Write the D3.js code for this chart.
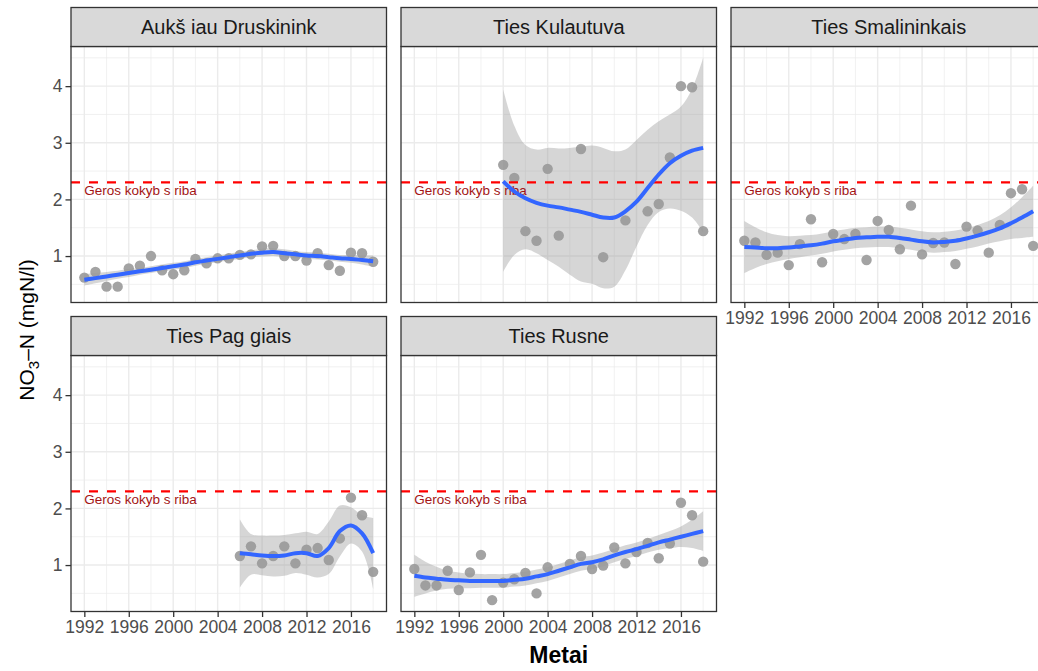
<!DOCTYPE html>
<html>
<head>
<meta charset="utf-8">
<script src="https://cdn.jsdelivr.net/npm/d3@7"></script>
<style>
html,body{margin:0;padding:0;background:#fff;}
svg{display:block;font-family:"Liberation Sans",Arial,sans-serif;}
</style>
</head>
<body>
<svg id="chart" width="1038" height="671"></svg>
<script>
// ---------------- DATA ----------------
const stations = ["Aukš iau Druskinink", "Ties Kulautuva", "Ties Smalininkais", "Ties Pag giais", "Ties Rusne"];
const years = [1992,1993,1994,1995,1996,1997,1998,1999,2000,2001,2002,2003,2004,2005,2006,2007,2008,2009,2010,2011,2012,2013,2014,2015,2016,2017,2018];
const xTicks = [1992,1996,2000,2004,2008,2012,2016];
const yTicks = [1,2,3,4];
const threshold = 2.3;
const thresholdLabel = "Geros kokyb s riba";
const xTitle = "Metai";

const _ = null;
// measured NO3-N values
const druskininkaiValues = [0.62,0.72,0.46,0.46,0.78,0.83,1.00,0.75,0.68,0.75,0.95,0.87,0.96,0.96,1.02,1.03,1.17,1.18,1.00,1.00,0.92,1.05,0.84,0.74,1.06,1.05,0.90];
const kulautuvaValues    = [_,_,_,_,_,_,_,_,2.61,2.38,1.44,1.27,2.54,1.36,_,2.89,_,0.98,_,1.63,_,1.79,1.92,2.74,4.00,3.98,1.44];
const smalininkaiValues  = [1.27,1.24,1.02,1.06,0.84,1.21,1.65,0.89,1.39,1.30,1.39,0.93,1.62,1.46,1.12,1.89,1.03,1.23,1.24,0.86,1.52,1.45,1.06,1.55,2.11,2.18,1.18];
const pagegiaiValues     = [_,_,_,_,_,_,_,_,_,_,_,_,_,_,1.16,1.33,1.03,1.16,1.33,1.03,1.27,1.30,1.09,1.47,2.19,1.88,0.88];
const rusneValues        = [0.93,0.64,0.64,0.90,0.56,0.87,1.18,0.38,0.69,0.75,0.86,0.50,0.96,_,1.02,1.16,0.93,0.99,1.31,1.03,1.23,1.39,1.12,1.38,2.10,1.88,1.06];

// smoothed fit and confidence band
const druskininkaiFit   = [0.58,0.61,0.64,0.67,0.70,0.73,0.76,0.79,0.82,0.85,0.89,0.92,0.95,0.98,1.01,1.04,1.06,1.07,1.05,1.03,1.01,1.00,0.98,0.96,0.95,0.93,0.91];
const druskininkaiLower = [0.48,0.52,0.56,0.60,0.63,0.67,0.70,0.73,0.76,0.79,0.83,0.86,0.89,0.92,0.95,0.98,0.99,1.00,0.98,0.97,0.95,0.94,0.92,0.90,0.88,0.85,0.81];
const druskininkaiUpper = [0.68,0.70,0.72,0.74,0.77,0.79,0.82,0.85,0.88,0.91,0.95,0.98,1.01,1.04,1.07,1.10,1.13,1.14,1.12,1.09,1.07,1.06,1.04,1.02,1.02,1.01,1.01];

const kulautuvaFit   = [_,_,_,_,_,_,_,_,2.32,2.14,2.02,1.94,1.89,1.86,1.82,1.78,1.73,1.68,1.68,1.79,1.96,2.20,2.44,2.64,2.77,2.86,2.91];
const kulautuvaLower = [_,_,_,_,_,_,_,_,0.72,1.02,1.12,1.05,0.93,0.81,0.67,0.55,0.51,0.43,0.46,0.75,1.17,1.55,1.78,1.84,1.80,1.68,1.42];
const kulautuvaUpper = [_,_,_,_,_,_,_,_,3.94,3.30,2.96,2.88,2.91,2.90,2.91,2.93,2.95,2.91,2.85,2.88,3.05,3.23,3.38,3.50,3.64,3.95,4.50];

const smalininkaiFit   = [1.16,1.15,1.14,1.14,1.15,1.17,1.19,1.22,1.26,1.29,1.32,1.33,1.34,1.34,1.32,1.29,1.26,1.24,1.25,1.27,1.31,1.36,1.42,1.49,1.58,1.68,1.79];
const smalininkaiLower = [0.70,0.79,0.86,0.91,0.95,0.98,1.01,1.04,1.08,1.11,1.14,1.15,1.16,1.16,1.14,1.11,1.08,1.06,1.07,1.09,1.13,1.17,1.22,1.26,1.30,1.32,1.34];
const smalininkaiUpper = [1.62,1.51,1.42,1.37,1.35,1.36,1.37,1.40,1.44,1.47,1.50,1.51,1.52,1.52,1.50,1.47,1.44,1.42,1.43,1.45,1.49,1.55,1.62,1.72,1.86,2.04,2.24];

const pagegiaiFit   = [_,_,_,_,_,_,_,_,_,_,_,_,_,_,1.21,1.19,1.17,1.16,1.17,1.21,1.21,1.16,1.30,1.60,1.70,1.56,1.21];
const pagegiaiLower = [_,_,_,_,_,_,_,_,_,_,_,_,_,_,0.60,0.83,0.82,0.80,0.81,0.86,0.83,0.78,0.84,1.15,1.38,1.24,0.58];
const pagegiaiUpper = [_,_,_,_,_,_,_,_,_,_,_,_,_,_,1.81,1.55,1.52,1.52,1.53,1.56,1.59,1.55,1.77,2.05,2.02,1.88,1.83];

const rusneFit   = [0.81,0.78,0.76,0.74,0.73,0.72,0.72,0.72,0.72,0.74,0.76,0.80,0.84,0.90,0.96,1.02,1.05,1.10,1.17,1.23,1.28,1.34,1.40,1.45,1.50,1.55,1.60];
const rusneLower = [0.44,0.50,0.55,0.58,0.59,0.59,0.60,0.60,0.60,0.62,0.64,0.68,0.72,0.78,0.84,0.90,0.93,0.98,1.05,1.11,1.16,1.22,1.27,1.30,1.32,1.30,1.25];
const rusneUpper = [1.18,1.06,0.97,0.90,0.87,0.85,0.84,0.84,0.84,0.86,0.88,0.92,0.96,1.02,1.08,1.14,1.17,1.22,1.29,1.35,1.40,1.46,1.53,1.60,1.68,1.80,1.95];

const panels = [
  {name: stations[0], values: druskininkaiValues, fit: druskininkaiFit, lo: druskininkaiLower, hi: druskininkaiUpper},
  {name: stations[1], values: kulautuvaValues,    fit: kulautuvaFit,    lo: kulautuvaLower,    hi: kulautuvaUpper},
  {name: stations[2], values: smalininkaiValues,  fit: smalininkaiFit,  lo: smalininkaiLower,  hi: smalininkaiUpper},
  {name: stations[3], values: pagegiaiValues,     fit: pagegiaiFit,     lo: pagegiaiLower,     hi: pagegiaiUpper},
  {name: stations[4], values: rusneValues,        fit: rusneFit,        lo: rusneLower,        hi: rusneUpper}
];

// ---------------- LAYOUT ----------------
const svg = d3.select("#chart");
const panelW = 315.5, panelH = 256, stripH = 39;
const colX = [71, 401, 731];
const rowStripY = [7.5, 316.5];
const xDomain = [1990.8, 2019.2];
const yDomain = [0.18, 4.70];
const gridCol = "#ebebeb", borderCol = "#333333";

panels.forEach((p, i) => {
  const col = i % 3, row = Math.floor(i / 3);
  const x0 = colX[col];
  const sy = rowStripY[row];
  const y0 = sy + stripH;
  const x = d3.scaleLinear().domain(xDomain).range([x0, x0 + panelW]);
  const y = d3.scaleLinear().domain(yDomain).range([y0 + panelH, y0]);
  const g = svg.append("g");

  g.append("rect").attr("x", x0).attr("y", y0).attr("width", panelW).attr("height", panelH).attr("fill", "#fff");

  const clipId = "clip" + i;
  svg.append("clipPath").attr("id", clipId).append("rect")
    .attr("x", x0).attr("y", y0).attr("width", panelW).attr("height", panelH);
  const inner = g.append("g").attr("clip-path", `url(#${clipId})`);

  // minor grid
  const xMinor = xTicks.map(t => t + 2);
  const yMinor = [0.5, 1.5, 2.5, 3.5, 4.5];
  inner.selectAll(".xmin").data(xMinor).join("line")
    .attr("x1", d => x(d)).attr("x2", d => x(d)).attr("y1", y0).attr("y2", y0 + panelH)
    .attr("stroke", gridCol).attr("stroke-width", 0.7);
  inner.selectAll(".ymin").data(yMinor).join("line")
    .attr("y1", d => y(d)).attr("y2", d => y(d)).attr("x1", x0).attr("x2", x0 + panelW)
    .attr("stroke", gridCol).attr("stroke-width", 0.7);
  // major grid
  inner.selectAll(".xmaj").data(xTicks).join("line")
    .attr("x1", d => x(d)).attr("x2", d => x(d)).attr("y1", y0).attr("y2", y0 + panelH)
    .attr("stroke", gridCol).attr("stroke-width", 1.4);
  inner.selectAll(".ymaj").data(yTicks).join("line")
    .attr("y1", d => y(d)).attr("y2", d => y(d)).attr("x1", x0).attr("x2", x0 + panelW)
    .attr("stroke", gridCol).attr("stroke-width", 1.4);

  // points
  const pts = years.map((yr, k) => ({yr, v: p.values[k]})).filter(d => d.v !== null);
  inner.selectAll(".pt").data(pts).join("circle")
    .attr("cx", d => x(d.yr)).attr("cy", d => y(d.v)).attr("r", 5.2)
    .attr("fill", "#a3a3a3");

  // smooth ribbon
  const sm = years.map((yr, k) => ({yr, f: p.fit[k], lo: p.lo[k], hi: p.hi[k]})).filter(d => d.f !== null);
  const curve = d3.curveCatmullRom.alpha(0.5);
  inner.append("path").datum(sm)
    .attr("d", d3.area().x(d => x(d.yr)).y0(d => y(d.lo)).y1(d => y(d.hi)).curve(curve))
    .attr("fill", "#999999").attr("fill-opacity", 0.4);

  // threshold line
  inner.append("line")
    .attr("x1", x0).attr("x2", x0 + panelW).attr("y1", y(threshold)).attr("y2", y(threshold))
    .attr("stroke", "#ff0000").attr("stroke-width", 2.2).attr("stroke-dasharray", "9,9");
  inner.append("text")
    .attr("x", x(1992)).attr("y", y(2.08))
    .attr("font-size", 13.5).attr("fill", "#a31515")
    .text(thresholdLabel);

  // smooth line
  inner.append("path").datum(sm)
    .attr("d", d3.line().x(d => x(d.yr)).y(d => y(d.f)).curve(curve))
    .attr("fill", "none").attr("stroke", "#3366ff").attr("stroke-width", 4);

  // panel border
  g.append("rect").attr("x", x0).attr("y", y0).attr("width", panelW).attr("height", panelH)
    .attr("fill", "none").attr("stroke", borderCol).attr("stroke-width", 1.3);

  // strip
  g.append("rect").attr("x", x0).attr("y", sy).attr("width", panelW).attr("height", stripH)
    .attr("fill", "#d9d9d9").attr("stroke", borderCol).attr("stroke-width", 1.3);
  g.append("text").attr("x", x0 + panelW / 2).attr("y", sy + stripH / 2)
    .attr("text-anchor", "middle").attr("dominant-baseline", "central")
    .attr("font-size", 20).attr("fill", "#1a1a1a").text(p.name);

  if (col === 0) {
    const ay = g.append("g").attr("transform", `translate(${x0},0)`)
      .call(d3.axisLeft(y).tickValues(yTicks).tickFormat(d3.format("d")).tickSize(5.5).tickPadding(3));
    ay.select(".domain").remove();
    ay.selectAll(".tick line").attr("stroke", borderCol).attr("stroke-width", 1.3);
    ay.selectAll(".tick text").attr("font-size", 17.5).attr("fill", "#4d4d4d")
      .attr("font-family", '"Liberation Sans",Arial,sans-serif');
  }
  if (row === 1 || col === 2) {
    const ax = g.append("g").attr("transform", `translate(0,${y0 + panelH})`)
      .call(d3.axisBottom(x).tickValues(xTicks).tickFormat(d3.format("d")).tickSize(5.5).tickPadding(4));
    ax.select(".domain").remove();
    ax.selectAll(".tick line").attr("stroke", borderCol).attr("stroke-width", 1.3);
    ax.selectAll(".tick text").attr("font-size", 17.5).attr("fill", "#4d4d4d")
      .attr("font-family", '"Liberation Sans",Arial,sans-serif');
  }
});

// axis titles
svg.append("text").attr("x", colX[0] + (colX[2] + panelW - colX[0]) / 2).attr("y", 663)
  .attr("text-anchor", "middle").attr("font-size", 23).attr("font-weight", "bold").attr("fill", "#000")
  .text(xTitle);

const yt = svg.append("text").attr("transform", "translate(34,330) rotate(-90)")
  .attr("text-anchor", "middle").attr("font-size", 21).attr("fill", "#000");
yt.append("tspan").text("NO");
yt.append("tspan").attr("font-size", 15).attr("dy", 5).text("3");
yt.append("tspan").attr("dy", -5).text("\u2013N (mgN/l)");
</script>
</body>
</html>
